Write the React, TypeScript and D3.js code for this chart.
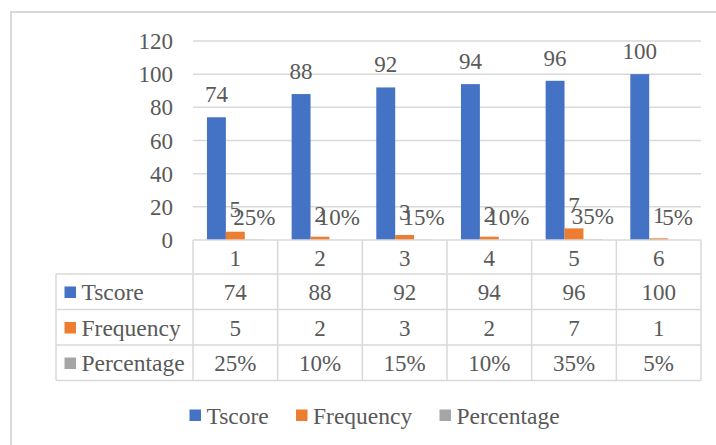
import React from "react";
import * as d3 from "d3";

const categories = ["1", "2", "3", "4", "5", "6"];
const seriesNames = ["Tscore", "Frequency", "Percentage"];
const tscore = [74, 88, 92, 94, 96, 100];
const frequency = [5, 2, 3, 2, 7, 1];
const percentage = [0.25, 0.1, 0.15, 0.1, 0.35, 0.05];
const yTicks = [0, 20, 40, 60, 80, 100, 120];
const colors = ["#4472C4", "#ED7D31", "#A5A5A5"];

const fmt = (s: number, v: number) => (s === 2 ? `${Math.round(v * 100)}%` : `${v}`);

export default function App() {
  const W = 716, H = 445;
  const left = 193, right = 701, top = 41, base = 240;
  const y = d3.scaleLinear().domain([0, 120]).range([base, top]);
  const x = d3.scaleBand<string>().domain(categories).range([left, right]).padding(0);
  const bw = x.bandwidth();
  const gap = bw * 0.165;
  const x1 = d3.scaleBand<string>().domain(seriesNames).range([gap, bw - gap]).padding(0);
  const values = [tscore, frequency, percentage];
  const font = "'Liberation Serif', 'Times New Roman', serif";
  const txt = "#595959";
  const grid = "#d9d9d9";
  const rows = [274, 309.5, 345, 380.5];
  const tableLeft = 56;

  return (
    <svg width={W} height={H} style={{ position: "absolute", left: 0, top: 0 }} fontFamily={font}>
      <rect x={0} y={0} width={W} height={H} fill="#fff" />
      <path d={`M11,${H} V12 H${W}`} fill="none" stroke={grid} strokeWidth={2} />
      {yTicks.filter(t => t > 0).map(t => (
        <line key={t} x1={left} x2={right} y1={y(t)} y2={y(t)} stroke={grid} strokeWidth={1.5} />
      ))}
      {yTicks.map(t => (
        <text key={t} x={173} y={y(t) + 8} textAnchor="end" fontSize={23} fill={txt}>{t}</text>
      ))}
      {categories.map((c, i) => (
        <g key={c} transform={`translate(${x(c)},0)`}>
          {seriesNames.map((s, si) => {
            const v = values[si][i];
            const bx = x1(s)!;
            return (
              <g key={s}>
                <rect x={bx} y={y(v)} width={x1.bandwidth()} height={base - y(v)} fill={colors[si]} />
                <text x={bx + x1.bandwidth() / 2} y={y(v) - 15} textAnchor="middle" fontSize={23} fill={txt}>{fmt(si, v)}</text>
              </g>
            );
          })}
        </g>
      ))}
      {/* data table */}
      <line x1={left} x2={right} y1={base} y2={base} stroke={grid} strokeWidth={1.5} />
      {rows.map(r => (
        <line key={r} x1={tableLeft} x2={right} y1={r} y2={r} stroke={grid} strokeWidth={1.5} />
      ))}
      <line x1={tableLeft} x2={tableLeft} y1={rows[0]} y2={rows[3]} stroke={grid} strokeWidth={1.5} />
      {[...categories.map(c => x(c)!), right].map((vx, i) => (
        <line key={i} x1={vx} x2={vx} y1={base} y2={rows[3]} stroke={grid} strokeWidth={1.5} />
      ))}
      {categories.map(c => (
        <text key={c} x={x(c)! + bw / 2} y={266} textAnchor="middle" fontSize={23} fill={txt}>{c}</text>
      ))}
      {seriesNames.map((s, si) => {
        const rowBase = [300, 335.5, 371][si];
        return (
          <g key={s}>
            <rect x={64.5} y={rowBase - 13.5} width={11.5} height={11.5} fill={colors[si]} />
            <text x={81.5} y={rowBase} fontSize={23.5} fill={txt}>{s}</text>
            {categories.map((c, i) => (
              <text key={c} x={x(c)! + bw / 2} y={rowBase} textAnchor="middle" fontSize={23} fill={txt}>{fmt(si, values[si][i])}</text>
            ))}
          </g>
        );
      })}
      {/* legend */}
      {seriesNames.map((s, si) => {
        const lx = [189.5, 296, 439.5][si];
        return (
          <g key={s}>
            <rect x={lx} y={409.5} width={11.5} height={11.5} fill={colors[si]} />
            <text x={lx + 17} y={424} fontSize={23.5} fill={txt}>{s}</text>
          </g>
        );
      })}
    </svg>
  );
}
